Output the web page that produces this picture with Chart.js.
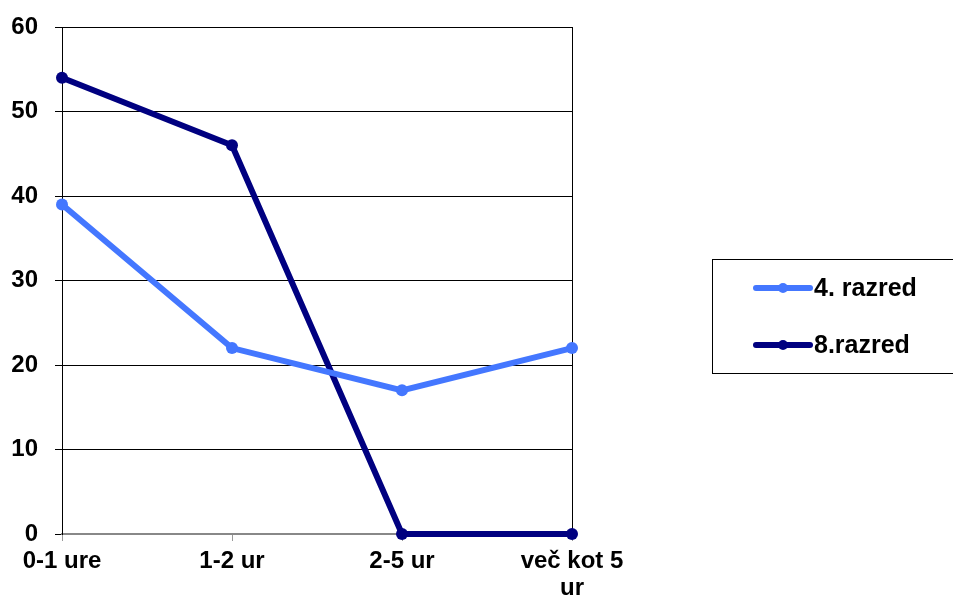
<!DOCTYPE html>
<html>
<head>
<meta charset="utf-8">
<script src="https://cdn.jsdelivr.net/npm/chart.js@4/dist/chart.umd.min.js"></script>
<style>
    html, body { margin: 0; padding: 0; background: #fff; }
    #wrap { width: 953px; height: 605px; position: relative; }
</style>
</head>
<body>
<div id="wrap"><canvas id="chart"></canvas></div>
<script>
const categories = ['0-1 ure', '1-2 ur', '2-5 ur', ['več kot 5', 'ur']];
const razred4 = [39, 22, 17, 22];
const razred8 = [54, 46, 0, 0];
const seriesNames = ['4. razred', '8.razred'];
const yTicks = [0, 10, 20, 30, 40, 50, 60];

const font = { family: 'Liberation Sans, Arial, sans-serif', size: 24, weight: 'bold', lineHeight: 1.12 };

// legend box drawn on the right, like the original
const boxLegend = {
    id: 'boxLegend',
    afterDraw: (chart) => {
        const ctx = chart.ctx;
        ctx.save();
        ctx.strokeStyle = '#000';
        ctx.lineWidth = 1;
        ctx.strokeRect(712.5, 259.5, 245, 114);
        chart.data.datasets.forEach((ds, i) => {
            const y = 288 + i * 57;
            ctx.strokeStyle = ds.borderColor;
            ctx.lineWidth = 6;
            ctx.lineCap = 'round';
            ctx.beginPath();
            ctx.moveTo(756, y);
            ctx.lineTo(810, y);
            ctx.stroke();
            ctx.fillStyle = ds.borderColor;
            ctx.beginPath();
            ctx.arc(783, y, 5, 0, Math.PI * 2);
            ctx.fill();
            ctx.fillStyle = '#000';
            ctx.font = 'bold 25px Liberation Sans, Arial, sans-serif';
            ctx.textBaseline = 'alphabetic';
            ctx.textAlign = 'left';
            ctx.fillText(ds.label, 814, y + 8);
        });
        ctx.restore();
    }
};

new Chart(document.getElementById('chart'), {
    type: 'line',
    data: {
        labels: categories,
        datasets: [
            {
                label: seriesNames[0],
                data: razred4,
                borderColor: '#4477FF',
                backgroundColor: '#4477FF',
                borderWidth: 6,
                pointRadius: 6,
                pointBorderWidth: 0,
                tension: 0,
                clip: false
            },
            {
                label: seriesNames[1],
                data: razred8,
                borderColor: '#000080',
                backgroundColor: '#000080',
                borderWidth: 6,
                pointRadius: 6,
                pointBorderWidth: 0,
                tension: 0,
                clip: false
            }
        ]
    },
    options: {
        responsive: true,
        maintainAspectRatio: false,
        animation: false,
        layout: { padding: { left: 0, right: 381, top: 27, bottom: 0 } },
        plugins: {
            legend: { display: false },
            tooltip: { enabled: false }
        },
        scales: {
            x: {
                offset: false,
                afterFit: (axis) => {
                    axis.height = 71;
                    axis.paddingLeft = 0;
                    axis.paddingRight = 0;
                },
                border: { display: true, color: '#888', width: 2 },
                grid: {
                    color: (c) => c.index === categories.length - 1 ? '#000' : 'rgba(0,0,0,0)',
                    tickColor: '#999',
                    tickLength: 7,
                    lineWidth: 1
                },
                ticks: {
                    color: '#000',
                    font: font,
                    maxRotation: 0,
                    autoSkip: false,
                    padding: 7
                }
            },
            y: {
                min: 0,
                max: 60,
                afterFit: (axis) => {
                    axis.width = 62;
                    axis.paddingTop = 0;
                    axis.paddingBottom = 0;
                },
                afterBuildTicks: (axis) => { axis.ticks = yTicks.map(v => ({ value: v })); },
                border: { display: true, color: '#000', width: 1 },
                grid: {
                    color: '#000',
                    tickColor: '#000',
                    tickLength: 7,
                    lineWidth: 1
                },
                ticks: {
                    color: '#000',
                    font: font,
                    padding: 17
                }
            }
        }
    },
    plugins: [boxLegend]
});
</script>
</body>
</html>
